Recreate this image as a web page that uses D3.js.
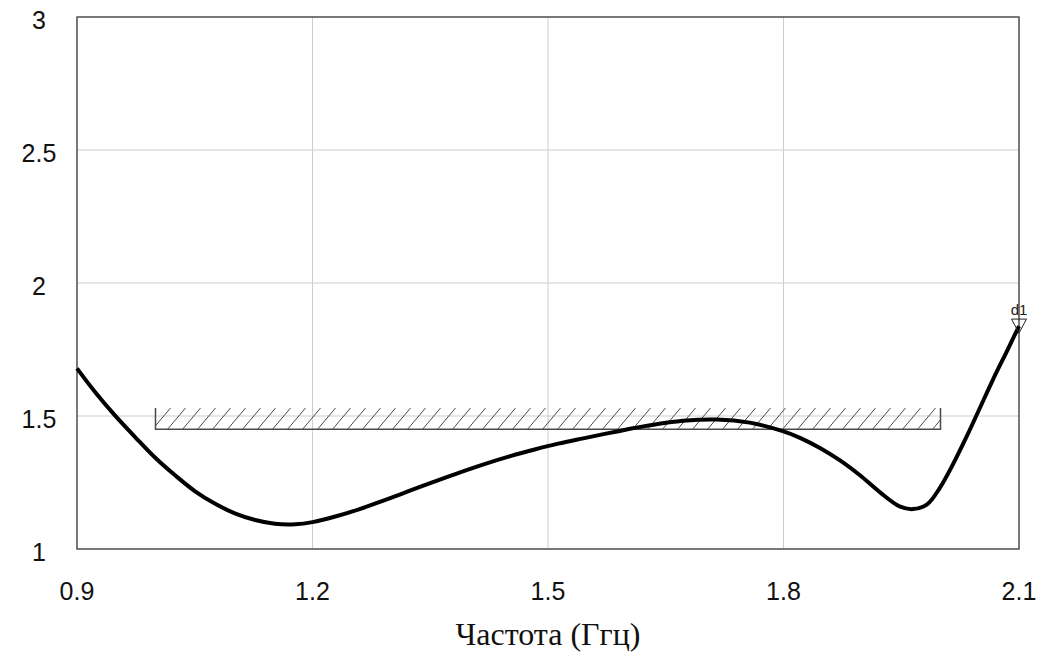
<!DOCTYPE html>
<html>
<head>
<meta charset="utf-8">
<script src="https://cdn.jsdelivr.net/npm/d3@7"></script>
<style>
  body { margin: 0; background: #fff; }
  svg { display: block; }
</style>
</head>
<body>
<script>
// data
var freq = [0.90, 0.923, 0.948, 0.974, 0.999, 1.025, 1.050, 1.076, 1.101, 1.127, 1.152, 1.178, 1.200,
            1.229, 1.260, 1.292, 1.324, 1.356, 1.388, 1.420, 1.452, 1.483, 1.513, 1.545, 1.588,
            1.630, 1.672, 1.715, 1.757, 1.799, 1.821, 1.847, 1.872, 1.897, 1.923, 1.948, 1.965,
            1.983, 1.999, 2.016, 2.034, 2.050, 2.067, 2.085, 2.100];
var vswr = [1.679, 1.590, 1.503, 1.421, 1.345, 1.277, 1.218, 1.170, 1.134, 1.109, 1.095, 1.093, 1.101,
            1.122, 1.150, 1.184, 1.219, 1.254, 1.288, 1.320, 1.349, 1.374, 1.396, 1.416, 1.442,
            1.465, 1.482, 1.487, 1.475, 1.443, 1.418, 1.379, 1.333, 1.278, 1.213, 1.160, 1.150,
            1.168, 1.229, 1.319, 1.427, 1.529, 1.638, 1.746, 1.838];
var xTicks = [0.9, 1.2, 1.5, 1.8, 2.1];
var yTicks = [1, 1.5, 2, 2.5, 3];
var maskX = [1.0, 2.0];     // hatched spec region
var maskY = [1.45, 1.53];
var markerName = "d1";
var xTitle = "Частота (Ггц)";

var W = 1041, H = 657;
var pLeft = 77, pRight = 1019, pTop = 17, pBottom = 549;

var x = d3.scaleLinear().domain([0.9, 2.1]).range([pLeft, pRight]);
var y = d3.scaleLinear().domain([1, 3]).range([pBottom, pTop]);

var svg = d3.select("body").append("svg")
            .attr("width", W)
            .attr("height", H);

svg.append("rect").attr("width", W).attr("height", H).attr("fill", "#fff");

// grid
svg.selectAll("line.vgrid")
   .data(xTicks.slice(1, -1))
   .enter().append("line")
   .attr("class", "vgrid")
   .attr("x1", function (d) { return x(d); })
   .attr("x2", function (d) { return x(d); })
   .attr("y1", pTop).attr("y2", pBottom)
   .attr("stroke", "#cdcdcd").attr("stroke-width", 1);

svg.selectAll("line.hgrid")
   .data(yTicks.slice(1, -1))
   .enter().append("line")
   .attr("class", "hgrid")
   .attr("x1", pLeft).attr("x2", pRight)
   .attr("y1", function (d) { return y(d); })
   .attr("y2", function (d) { return y(d); })
   .attr("stroke", "#cdcdcd").attr("stroke-width", 1);

// hatched mask
var mx0 = x(maskX[0]), mx1 = x(maskX[1]), my0 = y(maskY[1]), my1 = y(maskY[0]);
svg.append("clipPath").attr("id", "maskclip")
   .append("rect").attr("x", mx0).attr("y", my0)
   .attr("width", mx1 - mx0).attr("height", my1 - my0);

var hatchDx = 18, hatchStep = 15;
svg.append("g").attr("clip-path", "url(#maskclip)")
   .selectAll("line")
   .data(d3.range(mx0 - hatchDx, mx1 + hatchStep, hatchStep))
   .enter().append("line")
   .attr("x1", function (d) { return d; })
   .attr("y1", my1)
   .attr("x2", function (d) { return d + hatchDx; })
   .attr("y2", my0)
   .attr("stroke", "#4a4a4a").attr("stroke-width", 1);

svg.append("path")
   .attr("d", "M" + mx0 + "," + my0 + "V" + my1 + "H" + mx1 + "V" + my0)
   .attr("fill", "none").attr("stroke", "#4a4a4a").attr("stroke-width", 1.5);

// plot frame
svg.append("rect")
   .attr("x", pLeft).attr("y", pTop)
   .attr("width", pRight - pLeft).attr("height", pBottom - pTop)
   .attr("fill", "none").attr("stroke", "#4d4d4d").attr("stroke-width", 1.5);

// curve
var line = d3.line()
   .x(function (d) { return x(d[0]); })
   .y(function (d) { return y(d[1]); })
   .curve(d3.curveCatmullRom.alpha(0.5));

svg.append("path")
   .datum(d3.zip(freq, vswr))
   .attr("d", line)
   .attr("fill", "none")
   .attr("stroke", "#000")
   .attr("stroke-width", 4)
   .attr("stroke-linejoin", "round");

// marker d1 at last point
var mxp = x(freq[freq.length - 1]), myp = y(vswr[vswr.length - 1]);
svg.append("path")
   .attr("d", "M" + (mxp - 7.5) + "," + (myp - 7) + "H" + (mxp + 7.5) + "L" + mxp + "," + (myp + 7) + "Z")
   .attr("fill", "none").attr("stroke", "#222").attr("stroke-width", 1);
svg.append("text")
   .attr("x", mxp).attr("y", myp - 11)
   .attr("text-anchor", "middle")
   .attr("font-family", "Arial, 'Liberation Sans', sans-serif")
   .attr("font-size", "15px")
   .attr("fill", "#222")
   .text(markerName);

// tick labels
svg.selectAll("text.ylab")
   .data(yTicks)
   .enter().append("text")
   .attr("class", "ylab")
   .attr("x", 39)
   .attr("y", function (d) { return y(d) + 12; })
   .attr("text-anchor", "middle")
   .attr("font-family", "Arial, 'Liberation Sans', sans-serif")
   .attr("font-size", "25px")
   .attr("fill", "#111")
   .text(function (d) { return d; });

svg.selectAll("text.xlab")
   .data(xTicks)
   .enter().append("text")
   .attr("class", "xlab")
   .attr("x", function (d) { return x(d); })
   .attr("y", 600)
   .attr("text-anchor", "middle")
   .attr("font-family", "Arial, 'Liberation Sans', sans-serif")
   .attr("font-size", "25px")
   .attr("fill", "#111")
   .text(function (d) { return d3.format(".1f")(d); });

svg.append("text")
   .attr("x", (pLeft + pRight) / 2)
   .attr("y", 645)
   .attr("text-anchor", "middle")
   .attr("font-family", "'Times New Roman', 'Liberation Serif', serif")
   .attr("font-size", "32px")
   .attr("fill", "#111")
   .text(xTitle);
</script>
</body>
</html>
